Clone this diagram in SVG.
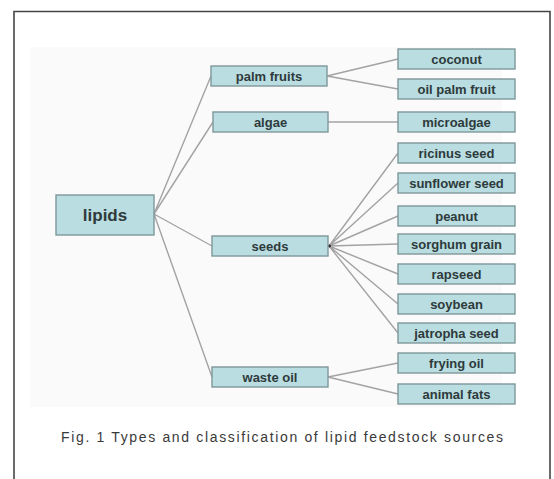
<svg xmlns="http://www.w3.org/2000/svg" width="554" height="479" viewBox="0 0 554 479">
<style>
.box{fill:#b9dde1;stroke:#7f979a;stroke-width:1.4}
.t{font-family:"Liberation Sans",Arial,sans-serif;font-weight:bold;font-size:13px;fill:#2e3a3b;text-anchor:middle}
.big{font-size:17px}
.c{stroke:#a3a3a3;stroke-width:1.4;fill:none}
.cap{font-family:"Liberation Sans",Arial,sans-serif;font-size:14px;fill:#3a3a3a}
</style>
<rect width="554" height="479" fill="#ffffff"/>
<rect x="30" y="47" width="472" height="360" fill="#fafafa"/>
<path d="M550,479 V11.5 H14 V479" fill="none" stroke="#454545" stroke-width="1.6"/>
<g id="connectors">
<path class="c" d="M154,214 L211,76 M154,214 L213,122 M154,214 L212,246 M154,214 L212,377"/>
<path class="c" d="M327,76 L398,59 M327,76 L398,89"/>
<path class="c" d="M328,122 L398,122"/>
<path class="c" d="M329,246 L398,153 M329,246 L398,183 M329,246 L398,216 M329,246 L398,244 M329,246 L398,274 M329,246 L398,304 M329,246 L398,333"/>
<path class="c" d="M328,377 L398,363 M328,377 L398,394"/>
<circle cx="329.5" cy="246" r="1.4" fill="#222"/>
</g>
<g id="lipids"><rect class="box" x="56" y="195" width="98" height="40"/><text class="t big" x="105" y="221">lipids</text></g>
<g id="palm-fruits"><rect class="box" x="211" y="66" width="116" height="20"/><text class="t" x="269" y="80.5">palm fruits</text></g>
<g id="algae"><rect class="box" x="213" y="112" width="115" height="20"/><text class="t" x="270.5" y="126.5">algae</text></g>
<g id="seeds"><rect class="box" x="212" y="236" width="116" height="20"/><text class="t" x="270" y="250.5">seeds</text></g>
<g id="waste-oil"><rect class="box" x="212" y="367" width="116" height="20"/><text class="t" x="270" y="381.5">waste oil</text></g>
<g id="coconut"><rect class="box" x="398" y="49" width="117" height="20"/><text class="t" x="456.5" y="63.5">coconut</text></g>
<g id="oil-palm-fruit"><rect class="box" x="398" y="79" width="117" height="20"/><text class="t" x="456.5" y="93.5">oil palm fruit</text></g>
<g id="microalgae"><rect class="box" x="398" y="112" width="117" height="20"/><text class="t" x="456.5" y="126.5">microalgae</text></g>
<g id="ricinus-seed"><rect class="box" x="398" y="143" width="117" height="20"/><text class="t" x="456.5" y="157.5">ricinus seed</text></g>
<g id="sunflower-seed"><rect class="box" x="398" y="173" width="117" height="20"/><text class="t" x="456.5" y="187.5">sunflower seed</text></g>
<g id="peanut"><rect class="box" x="398" y="206" width="117" height="20"/><text class="t" x="456.5" y="220.5">peanut</text></g>
<g id="sorghum-grain"><rect class="box" x="398" y="234" width="117" height="20"/><text class="t" x="456.5" y="248.5">sorghum grain</text></g>
<g id="rapseed"><rect class="box" x="398" y="264" width="117" height="20"/><text class="t" x="456.5" y="278.5">rapseed</text></g>
<g id="soybean"><rect class="box" x="398" y="294" width="117" height="20"/><text class="t" x="456.5" y="308.5">soybean</text></g>
<g id="jatropha-seed"><rect class="box" x="398" y="323" width="117" height="20"/><text class="t" x="456.5" y="337.5">jatropha seed</text></g>
<g id="frying-oil"><rect class="box" x="398" y="353" width="117" height="20"/><text class="t" x="456.5" y="367.5">frying oil</text></g>
<g id="animal-fats"><rect class="box" x="398" y="384" width="117" height="20"/><text class="t" x="456.5" y="398.5">animal fats</text></g>
<text class="cap" x="61" y="442" textLength="442" lengthAdjust="spacing">Fig. 1 Types and classification of lipid feedstock sources</text>
</svg>
